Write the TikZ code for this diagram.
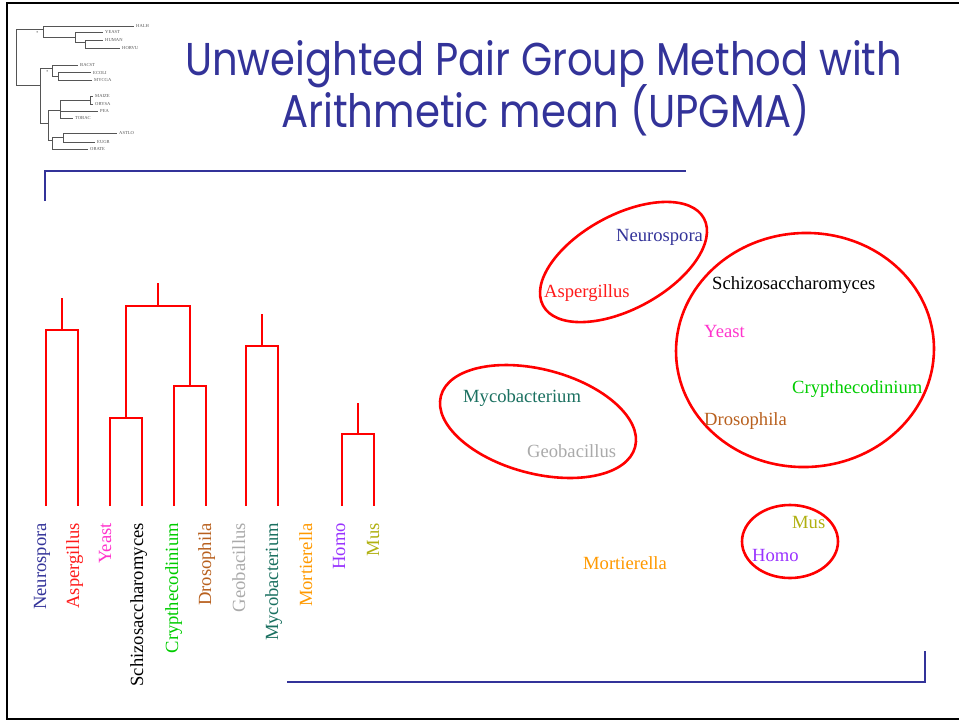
\documentclass[tikz,border=0pt]{standalone}
\usepackage{fontspec}
\usepackage{graphicx}
\setmainfont{Liberation Serif}
\newfontfamily\titlefont{Poppins}
\definecolor{ttl}{HTML}{333399}
\definecolor{cNeu}{HTML}{333399}
\definecolor{cAsp}{HTML}{FF1A1A}
\definecolor{cYea}{HTML}{FF33CC}
\definecolor{cSch}{HTML}{000000}
\definecolor{cCry}{HTML}{00CC00}
\definecolor{cDro}{HTML}{B8601E}
\definecolor{cGeo}{HTML}{AAAAAA}
\definecolor{cMyc}{HTML}{1A7060}
\definecolor{cMor}{HTML}{FF9900}
\definecolor{cHom}{HTML}{9933FF}
\definecolor{cMus}{HTML}{B0B010}
\definecolor{treeg}{HTML}{555555}
\tikzset{
  lbl/.style={inner sep=0pt, font=\fontsize{18.6pt}{20pt}\selectfont},
  vlbl/.style={lbl, rotate=90, anchor=base east},
  hlbl/.style={lbl, anchor=base west},
  dend/.style={draw=red, line width=2.8pt},
  grp/.style={draw=red, line width=2.6pt},
  bar/.style={draw=ttl, line width=2.6pt},
  mini/.style={draw=treeg, line width=0.9pt},
  minil/.style={inner sep=0pt, anchor=west, text=treeg, font=\fontsize{4.6pt}{5pt}\selectfont},
  ttlnode/.style={anchor=base west, inner sep=0pt, text=ttl},
}
\begin{document}
\begin{tikzpicture}[x=1pt,y=-1pt]
\useasboundingbox (0,0) rectangle (959,721);
% frame
\draw[line width=1.6pt] (959,3) -- (7,3) -- (7,719) -- (959,719);

% small tree image
\draw[mini] (16,29) -- (16,85);
\draw[mini] (16,29) -- (43,29);
\draw[mini] (43,26) -- (43,37);
\draw[mini] (43,26) -- (134,26);
\draw[mini] (43,37) -- (75,37);
\draw[mini] (75,32) -- (75,42);
\draw[mini] (75,32) -- (103,32);
\draw[mini] (75,42) -- (85,42);
\draw[mini] (85,40) -- (85,48);
\draw[mini] (85,40) -- (103,40);
\draw[mini] (85,48) -- (120,48);
\draw[mini] (16,85) -- (40,85);
\draw[mini] (40,68) -- (40,123);
\draw[mini] (40,68) -- (52,68);
\draw[mini] (52,65) -- (52,76);
\draw[mini] (52,65) -- (78,65);
\draw[mini] (52,76) -- (58,76);
\draw[mini] (58,72.5) -- (58,80);
\draw[mini] (58,72.5) -- (91,72.5);
\draw[mini] (58,80) -- (92,80);
\draw[mini] (40,123) -- (48,123);
\draw[mini] (48,110) -- (48,140);
\draw[mini] (48,110) -- (60,110);
\draw[mini] (60,100) -- (60,118);
\draw[mini] (60,100) -- (90,100);
\draw[mini] (90,96) -- (90,104);
\draw[mini] (90,96) -- (93,96);
\draw[mini] (90,104) -- (93,104);
\draw[mini] (60,111) -- (98,111);
\draw[mini] (60,118) -- (73,118);
\draw[mini] (48,140) -- (52,140);
\draw[mini] (52,137) -- (52,149);
\draw[mini] (52,137) -- (63,137);
\draw[mini] (63,133) -- (63,142);
\draw[mini] (63,133) -- (117,133);
\draw[mini] (63,142) -- (95,142);
\draw[mini] (52,149) -- (88,149);
\node[minil] (m1) at (136,26) {HALH};
\node[minil] (m2) at (105,32) {YEAST};
\node[minil] (m3) at (105,40) {HUMAN};
\node[minil] (m4) at (122,48) {HORVU};
\node[minil] (m5) at (80,65) {BACST};
\node[minil] (m6) at (93,72.5) {ECOLI};
\node[minil] (m7) at (94,80) {MYCGA};
\node[minil] (m8) at (95,96) {MAIZE};
\node[minil] (m9) at (95,104) {ORYSA};
\node[minil] (m10) at (100,111) {PEA};
\node[minil] (m11) at (75,118) {TOBAC};
\node[minil] (m12) at (119,133) {ASTLO};
\node[minil] (m13) at (97,142) {EUGR};
\node[minil] (m14) at (90,149) {ORATE};
\node[minil] (s1) at (36,33) {*};
\node[minil] (s2) at (46,72) {*};

% title
\node[ttlnode] (title1) at (185,75)
  {\resizebox{717pt}{\height}{\fontsize{46pt}{50pt}\titlefont Unweighted Pair Group Method with}};
\node[ttlnode] (title2) at (281,127)
  {\resizebox{529pt}{\height}{\fontsize{46pt}{50pt}\titlefont Arithmetic mean (UPGMA)}};

% blue bars
\coordinate (b1) at (45,201);
\coordinate (b2) at (45,171);
\coordinate (b3) at (686,171);
\draw[bar] (b1) -- (b2) -- (b3);
\coordinate (b4) at (287,682);
\coordinate (b5) at (925,682);
\coordinate (b6) at (925,651);
\draw[bar] (b4) -- (b5) -- (b6);

% dendrogram leaves
\coordinate (lNeu) at (46,506);
\coordinate (lAsp) at (78,506);
\coordinate (lYea) at (110,506);
\coordinate (lSch) at (142,506);
\coordinate (lCry) at (174,506);
\coordinate (lDro) at (206,506);
\coordinate (lGeo) at (246,506);
\coordinate (lMyc) at (278,506);
\coordinate (lHom) at (342,506);
\coordinate (lMus) at (374,506);
% internal nodes
\coordinate (j1) at (62,330);  \coordinate (j1t) at (62,298);
\coordinate (j2) at (126,418);
\coordinate (j3) at (190,386);
\coordinate (j4) at (158,306); \coordinate (j4t) at (158,283);
\coordinate (j5) at (262,346); \coordinate (j5t) at (262,314);
\coordinate (j6) at (358,434); \coordinate (j6t) at (358,403);

\draw[dend] (lNeu) |- (j1) -| (lAsp);
\draw[dend] (j1) -- (j1t);
\draw[dend] (lYea) |- (j2) -| (lSch);
\draw[dend] (lCry) |- (j3) -| (lDro);
\draw[dend] (j2) |- (j4) -| (j3);
\draw[dend] (j4) -- (j4t);
\draw[dend] (lGeo) |- (j5) -| (lMyc);
\draw[dend] (j5) -- (j5t);
\draw[dend] (lHom) |- (j6) -| (lMus);
\draw[dend] (j6) -- (j6t);

% rotated labels
\node[vlbl, text=cNeu] (vNeu) at (46,523) {Neurospora};
\node[vlbl, text=cAsp] (vAsp) at (79,523) {Aspergillus};
\node[vlbl, text=cYea] (vYea) at (111,523) {Yeast};
\node[vlbl, text=cSch] (vSch) at (143,523) {Schizosaccharomyces};
\node[vlbl, text=cCry] (vCry) at (178,523) {Crypthecodinium};
\node[vlbl, text=cDro] (vDro) at (211,523) {Drosophila};
\node[vlbl, text=cGeo] (vGeo) at (245,523) {Geobacillus};
\node[vlbl, text=cMyc] (vMyc) at (278,523) {Mycobacterium};
\node[vlbl, text=cMor] (vMor) at (312,523) {Mortierella};
\node[vlbl, text=cHom] (vHom) at (345,523) {Homo};
\node[vlbl, text=cMus] (vMus) at (379,523) {Mus};

% right side: groups
\draw[grp, rotate around={28.5:(623.5,262)}] (623.5,262) ellipse [x radius=91.5, y radius=47];
\draw[grp, rotate around={3:(805,350)}] (805,350) ellipse [x radius=129, y radius=117];
\draw[grp, rotate around={-14.7:(538,421.5)}] (538,421.5) ellipse [x radius=100.4, y radius=52.1];
\draw[grp] (790,541.5) ellipse [x radius=48, y radius=36.5];

\node[hlbl, text=cNeu] (hNeu) at (616,241) {Neurospora};
\node[hlbl, text=cAsp] (hAsp) at (544,297) {Aspergillus};
\node[hlbl, text=cSch] (hSch) at (712,289) {Schizosaccharomyces};
\node[hlbl, text=cYea] (hYea) at (704,337) {Yeast};
\node[hlbl, text=cCry] (hCry) at (792,393) {Crypthecodinium};
\node[hlbl, text=cDro] (hDro) at (704,425) {Drosophila};
\node[hlbl, text=cMyc] (hMyc) at (463,402) {Mycobacterium};
\node[hlbl, text=cGeo] (hGeo) at (527,457) {Geobacillus};
\node[hlbl, text=cMus] (hMus) at (792,528) {Mus};
\node[hlbl, text=cHom] (hHom) at (752,561) {Homo};
\node[hlbl, text=cMor] (hMor) at (583,569) {Mortierella};
\end{tikzpicture}
\end{document}
